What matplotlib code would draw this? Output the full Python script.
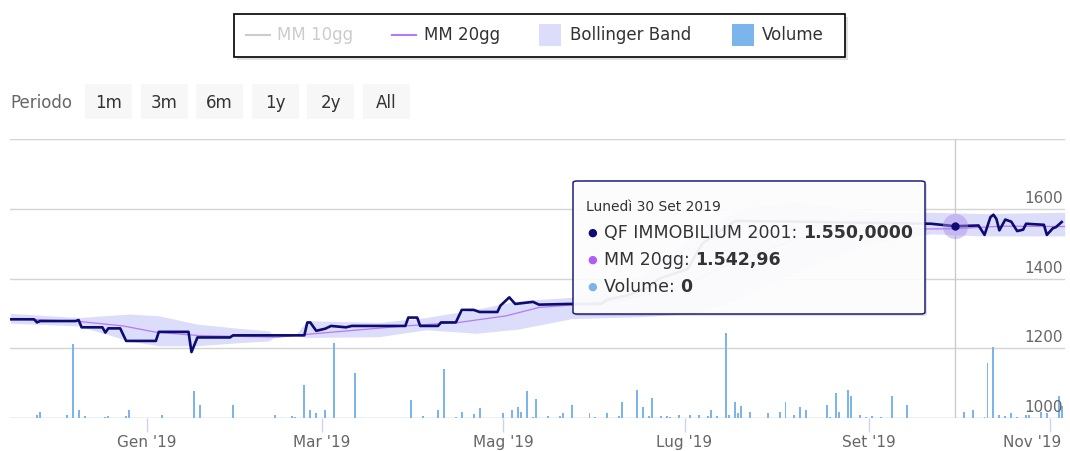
import matplotlib
matplotlib.use('Agg')
import matplotlib.pyplot as plt
import matplotlib.dates as mdates
import matplotlib.transforms as mtransforms
from matplotlib.patches import Rectangle, FancyBboxPatch
from matplotlib.lines import Line2D
import pandas as pd

plt.rcParams['font.family'] = ['DejaVu Sans']

# ─── DATI ─────────────────────────────────────────────────────────────────────
PRICE_DATES = [
    '2018-11-16', '2018-11-24', '2018-11-25', '2018-11-26', '2018-12-08', '2018-12-09',
    '2018-12-10', '2018-12-17', '2018-12-18', '2018-12-19', '2018-12-23', '2018-12-25',
    '2019-01-04', '2019-01-05', '2019-01-15', '2019-01-16', '2019-01-18', '2019-01-29',
    '2019-01-30', '2019-02-23', '2019-02-24', '2019-02-25', '2019-02-27', '2019-03-02',
    '2019-03-04', '2019-03-09', '2019-03-11', '2019-03-29', '2019-03-30', '2019-04-02',
    '2019-04-03', '2019-04-09', '2019-04-10', '2019-04-15', '2019-04-17', '2019-04-21',
    '2019-04-23', '2019-04-29', '2019-04-30', '2019-05-03', '2019-05-05', '2019-05-09',
    '2019-05-11', '2019-05-13', '2019-05-23', '2019-06-03', '2019-06-05', '2019-06-12',
    '2019-06-19', '2019-06-22', '2019-07-02', '2019-07-07', '2019-07-14', '2019-07-18',
    '2019-08-08', '2019-08-29', '2019-09-22', '2019-09-30', '2019-10-08', '2019-10-10',
    '2019-10-12', '2019-10-13', '2019-10-14', '2019-10-15', '2019-10-17', '2019-10-19',
    '2019-10-21', '2019-10-23', '2019-10-24', '2019-10-30', '2019-10-31', '2019-11-02',
    '2019-11-03', '2019-11-05',
]
PRICE_VALUES = [
    1283, 1283, 1274, 1278, 1278, 1281,
    1260, 1260, 1245, 1257, 1257, 1221,
    1221, 1247, 1247, 1189, 1231, 1231,
    1237, 1237, 1274, 1274, 1250, 1256,
    1264, 1260, 1264, 1264, 1288, 1288,
    1264, 1264, 1274, 1274, 1310, 1310,
    1304, 1304, 1322, 1346, 1327, 1331,
    1333, 1325, 1327, 1327, 1340, 1352,
    1375, 1398, 1427, 1500, 1542, 1565,
    1563, 1560, 1557, 1550, 1552, 1525,
    1576, 1583, 1571, 1538, 1569, 1563,
    1536, 1540, 1557, 1554, 1525, 1544,
    1547, 1562,
]

MA20_DATES = [
    '2018-11-16', '2018-12-09', '2018-12-24', '2019-01-04', '2019-01-19', '2019-02-14',
    '2019-02-24', '2019-03-29', '2019-04-16', '2019-05-02', '2019-05-13', '2019-05-24',
    '2019-06-09', '2019-06-29', '2019-07-19', '2019-08-08', '2019-09-01', '2019-09-30',
    '2019-10-16', '2019-11-06',
]
MA20_VALUES = [
    1285, 1277, 1264, 1246, 1236, 1232,
    1240, 1264, 1274, 1293, 1317, 1324,
    1338, 1375, 1450, 1515, 1540, 1542.96,
    1550, 1549,
]

BAND_DATES = [
    '2018-11-16', '2018-12-09', '2018-12-26', '2019-01-05', '2019-01-18', '2019-02-01',
    '2019-02-11', '2019-02-13', '2019-02-20', '2019-02-24', '2019-03-20', '2019-04-05',
    '2019-04-22', '2019-05-06', '2019-05-24', '2019-06-15', '2019-07-05', '2019-07-19',
    '2019-08-08', '2019-09-01', '2019-09-22', '2019-10-10', '2019-11-06',
]
BAND_LOWER = [
    1272, 1264, 1221, 1207, 1207, 1216,
    1221, 1232, 1236, 1231, 1233, 1253,
    1243, 1255, 1285, 1290, 1300, 1340,
    1420, 1500, 1528, 1522, 1522,
]
BAND_UPPER = [
    1300, 1288, 1298, 1293, 1269, 1257,
    1250, 1233, 1238, 1279, 1274, 1288,
    1312, 1336, 1346, 1400, 1520, 1600,
    1620, 1590, 1590, 1586, 1590,
]

VOL_DATES = [
    '2018-11-25', '2018-11-26', '2018-12-05', '2018-12-07', '2018-12-09', '2018-12-11',
    '2018-12-18', '2018-12-19', '2018-12-25', '2018-12-26', '2019-01-06', '2019-01-17',
    '2019-01-19', '2019-01-30', '2019-02-06', '2019-02-13', '2019-02-19', '2019-02-20',
    '2019-02-23', '2019-02-25', '2019-02-27', '2019-03-02', '2019-03-05', '2019-03-10',
    '2019-03-12', '2019-03-18', '2019-03-31', '2019-04-04', '2019-04-09', '2019-04-11',
    '2019-04-15', '2019-04-17', '2019-04-21', '2019-04-23', '2019-05-01', '2019-05-04',
    '2019-05-06', '2019-05-07', '2019-05-09', '2019-05-11', '2019-05-12', '2019-05-16',
    '2019-05-20', '2019-05-21', '2019-05-24', '2019-05-30', '2019-06-01', '2019-06-05',
    '2019-06-09', '2019-06-10', '2019-06-15', '2019-06-17', '2019-06-19', '2019-06-20',
    '2019-06-23', '2019-06-25', '2019-06-26', '2019-06-29', '2019-07-03', '2019-07-06',
    '2019-07-09', '2019-07-10', '2019-07-12', '2019-07-15', '2019-07-16', '2019-07-18',
    '2019-07-19', '2019-07-20', '2019-07-23', '2019-07-29', '2019-08-02', '2019-08-04',
    '2019-08-07', '2019-08-09', '2019-08-11', '2019-08-18', '2019-08-19', '2019-08-21',
    '2019-08-22', '2019-08-25', '2019-08-26', '2019-08-29', '2019-08-31', '2019-09-02',
    '2019-09-05', '2019-09-09', '2019-09-14', '2019-10-03', '2019-10-06', '2019-10-10',
    '2019-10-11', '2019-10-13', '2019-10-15', '2019-10-17', '2019-10-19', '2019-10-21',
    '2019-10-24', '2019-10-25', '2019-10-29', '2019-10-31', '2019-11-04', '2019-11-05',
]
VOL_VALUES = [
    31, 65, 31, 737, 83, 21,
    7, 21, 21, 83, 34, 272,
    127, 127, 3, 34, 21, 7,
    331, 83, 48, 83, 754, 3,
    455, 3, 176, 21, 83, 492,
    7, 65, 38, 100, 48, 83,
    110, 65, 272, 7, 193, 21,
    21, 48, 127, 48, 7, 48,
    21, 158, 282, 110, 21, 203,
    21, 21, 7, 34, 34, 34,
    21, 83, 21, 847, 34, 158,
    48, 117, 65, 48, 65, 158,
    34, 110, 83, 127, 7, 248,
    65, 282, 220, 34, 7, 21,
    7, 220, 127, 65, 83, 7,
    547, 709, 34, 21, 48, 7,
    34, 34, 65, 48, 220, 117,
]

X_TICKS = ['2019-01-01', '2019-03-01', '2019-05-01', '2019-07-01', '2019-09-01', '2019-11-01']
X_TICK_LABELS = ["Gen '19", "Mar '19", "Mag '19", "Lug '19", "Set '19", "Nov '19"]
Y_GRID = [1000, 1200, 1400, 1600, 1800]
Y_LABELS = [1000, 1200, 1400, 1600]
RANGE_BUTTONS = ['1m', '3m', '6m', '1y', '2y', 'All']

HOVER_DATE = '2019-09-30'
TOOLTIP_HEADER = 'Lunedì 30 Set 2019'
TOOLTIP_ROWS = [
    ('QF IMMOBILIUM 2001: ', '1.550,0000'),
    ('MM 20gg: ', '1.542,96'),
    ('Volume: ', '0'),
]

# ─── STILE ────────────────────────────────────────────────────────────────────
W, H = 1070, 451
NAVY = '#0c0c72'
PURPLE = '#b57af5'
BAND = '#dcdcfb'
VOLUME = '#7cb5ec'
GRID = '#d4d4d4'
AXIS = '#ccd6eb'
LABEL = '#666666'


def fx(x):
    return x / W


def fy(y):
    return 1 - y / H


def to_num(dates):
    return mdates.date2num(pd.to_datetime(dates))


fig = plt.figure(figsize=(W / 100, H / 100), dpi=100)
rect = [fx(10), fy(418), fx(1055), 279 / H]

# asse volume (sotto) e asse prezzo (sopra)
axv = fig.add_axes(rect)
ax = fig.add_axes(rect, sharex=axv)
ax.patch.set_alpha(0)

base = mdates.date2num(pd.Timestamp('2019-01-01'))
axv.set_xlim(base - 46.1, base + 309.1)
axv.set_ylim(0, 2790)
ax.set_ylim(1000, 1800)

for a in (ax, axv):
    for s in a.spines.values():
        s.set_visible(False)
    a.set_yticks([])

for g in Y_GRID:
    axv.axhline((g - 1000) * 2790 / 800, color=GRID, lw=1, zorder=0)
axv.axhline(0, color=AXIS, lw=1, zorder=1)

axv.bar(to_num(VOL_DATES), VOL_VALUES, width=0.65, color=VOLUME, zorder=2)

# crosshair
hover_x = to_num([HOVER_DATE])[0]
ax.axvline(hover_x, color='#cccccc', lw=1, zorder=1)

ax.fill_between(to_num(BAND_DATES), BAND_LOWER, BAND_UPPER, color=BAND, lw=0, zorder=2)
ax.plot(to_num(MA20_DATES), MA20_VALUES, color=PURPLE, lw=0.9, zorder=3)
ax.plot(to_num(PRICE_DATES), PRICE_VALUES, color=NAVY, lw=1.9, zorder=4,
        solid_joinstyle='round')

hover_y = PRICE_VALUES[PRICE_DATES.index(HOVER_DATE)]
ax.scatter([hover_x], [hover_y], s=330, color='#a98be6', alpha=0.45, lw=0, zorder=5)
ax.scatter([hover_x], [hover_y], s=36, color=NAVY, lw=0, zorder=6)

# tick asse x
axv.set_xticks(to_num(X_TICKS))
axv.set_xticklabels(X_TICK_LABELS)
axv.tick_params(axis='x', length=10, width=1, color=AXIS, labelcolor=LABEL,
                labelsize=11, pad=2)
ax.tick_params(axis='x', bottom=False, labelbottom=False)
# ultima etichetta spostata dentro il grafico
last = axv.get_xticklabels()[-1]
last.set_horizontalalignment('right')
last.set_transform(last.get_transform() +
                   mtransforms.ScaledTranslation(0.11, 0, fig.dpi_scale_trans))

for v in Y_LABELS:
    ax.text(0.998, v + 8, str(v), transform=ax.get_yaxis_transform(),
            ha='right', va='bottom', fontsize=11, color=LABEL, zorder=3)

# ─── LEGENDA ──────────────────────────────────────────────────────────────────
fig.add_artist(Rectangle((fx(237), fy(60)), fx(611), 43 / H, transform=fig.transFigure,
                         facecolor='#000000', alpha=0.12, lw=0))
fig.add_artist(Rectangle((fx(234), fy(57)), fx(611), 43 / H, transform=fig.transFigure,
                         facecolor='white', edgecolor='black', lw=1.2))
ly = fy(35)
fig.add_artist(Line2D([fx(246), fx(270)], [ly, ly], color='#cccccc', lw=1.5,
                      transform=fig.transFigure))
fig.text(fx(277), ly, 'MM 10gg', color='#cccccc', fontsize=12, va='center')
fig.add_artist(Line2D([fx(392), fx(416)], [ly, ly], color=PURPLE, lw=1.5,
                      transform=fig.transFigure))
fig.text(fx(424), ly, 'MM 20gg', color='#333333', fontsize=12, va='center')
fig.add_artist(Rectangle((fx(539), fy(46)), fx(22), 22 / H, transform=fig.transFigure,
                         facecolor=BAND, lw=0))
fig.text(fx(570), ly, 'Bollinger Band', color='#333333', fontsize=12, va='center')
fig.add_artist(Rectangle((fx(732), fy(46)), fx(22), 22 / H, transform=fig.transFigure,
                         facecolor=VOLUME, lw=0))
fig.text(fx(762), ly, 'Volume', color='#333333', fontsize=12, va='center')

# ─── SELETTORE PERIODO ────────────────────────────────────────────────────────
fig.text(fx(10), fy(103), 'Periodo', color=LABEL, fontsize=12, va='center')
for i, lab in enumerate(RANGE_BUTTONS):
    x0 = 85 + i * 55.6
    fig.add_artist(Rectangle((fx(x0), fy(119)), fx(47), 35 / H, transform=fig.transFigure,
                             facecolor='#f7f7f7', lw=0))
    fig.text(fx(x0 + 23.5), fy(103), lab, color='#333333', fontsize=12,
             ha='center', va='center')

# ─── TOOLTIP ──────────────────────────────────────────────────────────────────
fig.add_artist(FancyBboxPatch((fx(575), fy(316)), fx(352), 133 / H,
                              boxstyle='round,pad=0,rounding_size=0.004',
                              transform=fig.transFigure, facecolor='#000000',
                              alpha=0.12, lw=0, zorder=10))
fig.add_artist(FancyBboxPatch((fx(573), fy(314)), fx(352), 133 / H,
                              boxstyle='round,pad=0,rounding_size=0.004',
                              transform=fig.transFigure, facecolor=(1, 1, 1, 0.93),
                              edgecolor='#1c1c80', lw=1.1, zorder=11))
fig.text(fx(586), fy(207), TOOLTIP_HEADER, color='#333333', fontsize=10,
         va='center', zorder=12)

fig.canvas.draw()
renderer = fig.canvas.get_renderer()
dot_colors = [NAVY, '#b05cf5', VOLUME]
for i, (label, value) in enumerate(TOOLTIP_ROWS):
    yy = fy(233 + i * 27)
    fig.text(fx(592), yy, '●', color=dot_colors[i], fontsize=8, ha='center',
             va='center', zorder=12)
    t = fig.text(fx(604), yy, label, color='#333333', fontsize=12.5, va='center',
                 zorder=12)
    bb = t.get_window_extent(renderer=renderer)
    fig.text(bb.x1 / W, yy, value, color='#333333', fontsize=12.5,
             fontweight='bold', va='center', zorder=12)

fig.savefig('out.png', dpi=100)
